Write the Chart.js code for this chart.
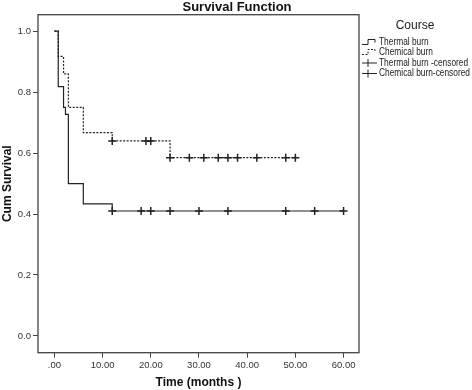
<!DOCTYPE html>
<html>
<head>
<meta charset="utf-8">
<script src="https://cdn.jsdelivr.net/npm/chart.js@4.4.1/dist/chart.umd.min.js"></script>
<style>
  html, body { margin: 0; padding: 0; background: #fff; }
  #wrap { position: relative; width: 472px; height: 390px; }
</style>
</head>
<body>
<div id="wrap"><canvas id="chart" width="472" height="390"></canvas></div>
<script>
// Kaplan-Meier steps
const thermalTime = [0, 0.8, 1.9, 2.3, 2.9, 6, 12, 60];
const thermalSurv = [1.0, 0.818, 0.75, 0.727, 0.5, 0.433, 0.41, 0.41];
const chemTime = [0, 0.8, 1.9, 2.9, 6, 12, 24, 50];
const chemSurv = [1.0, 0.917, 0.86, 0.75, 0.667, 0.64, 0.585, 0.585];

// censored observations
const thermalCensTime = [12, 18, 20, 24, 30, 36, 48, 54, 60];
const thermalCensSurv = [0.41, 0.41, 0.41, 0.41, 0.41, 0.41, 0.41, 0.41, 0.41];
const chemCensTime = [12, 19, 20, 24, 28, 31, 34, 36, 38, 42, 48, 50];
const chemCensSurv = [0.64, 0.64, 0.64, 0.585, 0.585, 0.585, 0.585, 0.585, 0.585, 0.585, 0.585, 0.585];

const xTicks = [0, 10, 20, 30, 40, 50, 60];
const yTicks = [0, 0.2, 0.4, 0.6, 0.8, 1.0];

const legendLabels = ['Thermal burn', 'Chemical burn', 'Thermal burn -censored', 'Chemical burn-censored'];

const FONT = '"Liberation Sans", Arial, sans-serif';
const INK = '#222';

function pts(xs, ys) {
    return xs.map((x, i) => ({ x: x, y: ys[i] }));
}

// Function to draw title, plot frame and the legend block
const decorPlugin = {
    id: 'decor',
    afterDraw(chart) {
        const ctx = chart.ctx;
        const a = chart.chartArea;
        ctx.save();

        // frame round the plot
        ctx.strokeStyle = '#444';
        ctx.lineWidth = 1.3;
        ctx.strokeRect(a.left, a.top, a.right - a.left, a.bottom - a.top);

        // title
        ctx.fillStyle = '#111';
        ctx.font = 'bold 13px ' + FONT;
        ctx.textAlign = 'center';
        ctx.textBaseline = 'middle';
        ctx.fillText('Survival Function', 237, 7);

        // legend
        ctx.font = '12px ' + FONT;
        ctx.fillStyle = '#222';
        ctx.fillText('Course', 415, 26);

        ctx.font = '10px ' + FONT;
        ctx.textAlign = 'left';
        // squeeze the labels a little so the longest one fits the right edge
        const squeeze = 91 / ctx.measureText(legendLabels[3]).width;
        const rowY = [42.5, 52.5, 63, 73.5];
        ctx.strokeStyle = INK;
        ctx.lineWidth = 1;
        legendLabels.forEach((label, i) => {
            const y = rowY[i];
            ctx.beginPath();
            if (i < 2) {
                ctx.setLineDash(i === 1 ? [2, 1.5] : []);
                ctx.moveTo(362, y + 2);
                ctx.lineTo(368, y + 2);
                ctx.lineTo(368, y - 3);
                ctx.lineTo(375, y - 3);
                ctx.lineTo(375, y);
            } else {
                ctx.setLineDash([]);
                ctx.moveTo(362, y);
                ctx.lineTo(377, y);
                ctx.moveTo(368, y - 4);
                ctx.lineTo(368, y + 4);
            }
            ctx.stroke();
            const w = ctx.measureText(label).width;
            ctx.fillText(label, 379, y, w * squeeze);
        });
        ctx.restore();
    }
};

const ctx = document.getElementById('chart').getContext('2d');
const chart = new Chart(ctx, {
    type: 'line',
    data: {
        datasets: [
            {
                label: 'Thermal burn',
                data: pts(thermalTime, thermalSurv),
                stepped: true,
                borderColor: INK,
                borderWidth: 1.2,
                pointRadius: 0,
                fill: false
            },
            {
                label: 'Chemical burn',
                data: pts(chemTime, chemSurv),
                stepped: true,
                borderColor: INK,
                borderWidth: 1.2,
                borderDash: [2, 1.5],
                pointRadius: 0,
                fill: false
            },
            {
                label: 'Thermal burn -censored',
                data: pts(thermalCensTime, thermalCensSurv),
                showLine: false,
                pointStyle: 'cross',
                pointRadius: 4,
                borderColor: INK,
                borderWidth: 1.5
            },
            {
                label: 'Chemical burn-censored',
                data: pts(chemCensTime, chemCensSurv),
                showLine: false,
                pointStyle: 'cross',
                pointRadius: 4,
                borderColor: INK,
                borderWidth: 1.5
            }
        ]
    },
    options: {
        responsive: false,
        animation: false,
        layout: { padding: { left: 0, right: 113, top: 14.7, bottom: 0 } },
        plugins: {
            legend: { display: false },
            tooltip: { enabled: false }
        },
        scales: {
            x: {
                type: 'linear',
                min: -3.4,
                max: 63.2,
                afterBuildTicks: (s) => { s.ticks = xTicks.map(v => ({ value: v })); },
                afterFit: (s) => { s.height = 37.3; },
                ticks: {
                    callback: (v) => (v === 0 ? '.00' : v.toFixed(2)),
                    font: { family: FONT, size: 9.5 },
                    color: '#333',
                    padding: 2,
                    maxRotation: 0
                },
                grid: { drawOnChartArea: false, drawTicks: true, tickLength: 5, color: '#444' },
                border: { display: false },
                title: {
                    display: true,
                    text: 'Time (months )',
                    font: { family: FONT, size: 12, weight: 'bold' },
                    color: '#111',
                    padding: { top: 4, bottom: 0 }
                }
            },
            y: {
                type: 'linear',
                min: -0.055,
                max: 1.054,
                afterBuildTicks: (s) => { s.ticks = yTicks.map(v => ({ value: v })); },
                afterFit: (s) => { s.width = 38; },
                ticks: {
                    callback: (v) => v.toFixed(1),
                    font: { family: FONT, size: 9.5 },
                    color: '#333',
                    padding: 2
                },
                grid: { drawOnChartArea: false, drawTicks: true, tickLength: 5, color: '#444' },
                border: { display: false },
                title: {
                    display: true,
                    text: 'Cum Survival',
                    font: { family: FONT, size: 12, weight: 'bold' },
                    color: '#111',
                    padding: { top: 0, bottom: 2 }
                }
            }
        }
    },
    plugins: [decorPlugin]
});
</script>
</body>
</html>
